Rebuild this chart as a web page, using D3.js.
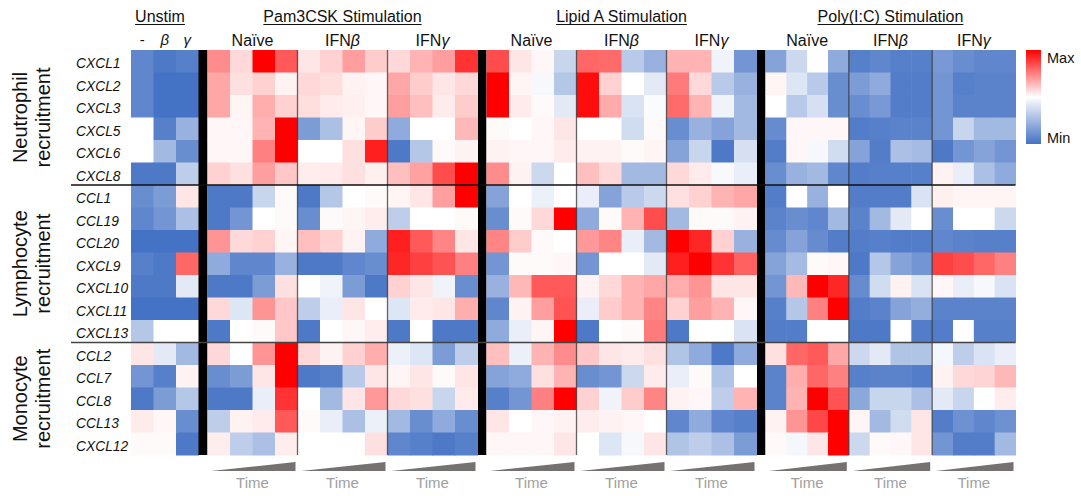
<!DOCTYPE html>
<html>
<head>
<meta charset="utf-8">
<script src="https://cdn.jsdelivr.net/npm/d3@7/dist/d3.min.js"></script>
<style>
    body { margin: 0; background: #fff; }
    text { font-family: "Liberation Sans", Arial, sans-serif; }
</style>
</head>
<body>
<svg id="chart" width="1081" height="496"></svg>
<script>
// genes (rows) and their groups
let genes = ["CXCL1", "CXCL2", "CXCL3", "CXCL5", "CXCL6", "CXCL8",
    "CCL1", "CCL19", "CCL20", "CXCL9", "CXCL10", "CXCL11", "CXCL13",
    "CCL2", "CCL7", "CCL8", "CCL13", "CXCL12"];
let groupNames = [["Neutrophil", "recruitment"], ["Lymphocyte", "recruitment"], ["Monocyte", "recruitment"]];
let groupSizes = [6, 7, 5];

let unstimCols = ["-", "β", "γ"];
let stimNames = ["Pam3CSK Stimulation", "Lipid A Stimulation", "Poly(I:C) Stimulation"];
let treatments = ["Naïve", "IFNβ", "IFNγ"];
let timepoints = ["t1", "t2", "t3", "t4"];

// relative expression, -1 = Min, 0 = middle, 1 = Max
let unstimValues = [
    [-0.85, -0.95, -0.9], [-0.85, -1, -1], [-0.85, -1, -1], [0, -0.9, -0.55], [0, -0.5, -0.8], [-0.95, -0.95, -0.35],
    [-0.8, -0.7, 0.1], [-0.85, -0.75, -0.45], [-1, -1, -1], [-0.9, -0.95, 0.6], [-0.95, -0.95, -0.15], [-1, -1, -1], [-0.4, 0, 0],
    [0.1, -0.15, -0.5], [-0.75, -0.9, 0.05], [-0.95, -0.7, -0.4], [0.08, 0.03, -0.8], [0.02, 0.02, -0.95]
];

let pam3Values = [
    [0.45, 0.15, 1, 0.65, 0.1, 0.18, 0.38, 0.2, 0.15, 0.3, 0.38, 0.8],
    [0.35, 0.12, 0.18, 0.05, 0.15, 0.13, 0.05, 0.03, 0.35, 0.2, 0.1, 0.15],
    [0.35, 0.04, 0.32, 0.18, 0.13, 0.08, 0.06, 0.03, 0.38, 0.25, 0.08, 0.2],
    [0.03, 0.03, 0.3, 1, -0.7, -0.45, 0.04, 0.2, -0.6, 0, 0, 0.28],
    [0.03, 0.03, 0.5, 1, 0, 0, 0.12, 0.88, -0.95, -0.4, 0.02, 0.05],
    [0.18, 0.12, 0.38, 0.22, 0.07, 0.08, 0.12, 0.06, 0.25, 0.37, 0.7, 1],
    [-0.95, -0.95, -0.3, 0.02, -0.95, -0.4, 0, 0.02, 0.04, 0.1, 0.38, 1],
    [-0.95, -0.75, 0, 0.02, -0.8, 0.02, 0.04, 0.07, -0.35, 0, 0, 0.02],
    [0.42, 0.15, 0.18, 0.04, 0.25, 0.18, 0.05, -0.6, 0.88, 0.65, 0.48, 0.1],
    [-0.6, -0.85, -0.85, -0.55, -0.95, -0.95, -0.85, -0.8, 0.85, 0.75, 0.68, 0.5],
    [-0.95, -0.95, -0.7, 0.12, 0, -0.08, -0.7, -0.95, 0.18, 0.1, -0.08, -0.8],
    [0.15, -0.18, 0.42, 0.22, -0.35, -0.12, 0.1, 0, -0.18, 0.08, 0.1, 0.32],
    [-0.95, 0, 0.02, 0.22, -0.95, 0, 0.03, 0.07, -0.95, 0, -0.95, -0.95],
    [0.15, 0, 0.42, 1, 0.15, 0.05, 0.18, 0.32, -0.1, -0.18, -0.7, -0.35],
    [-0.8, -0.7, 0.1, 1, -0.95, -0.9, -0.38, 0.1, 0.04, 0.1, 0.02, 0.1],
    [-0.95, -0.95, -0.12, 0.8, 0, -0.5, 0.1, 0.4, 0.15, 0.12, -0.3, 0.08],
    [-0.35, 0.05, 0.08, 0.65, 0.02, -0.12, -0.45, -0.1, -0.5, -0.8, -0.6, -0.8],
    [0.07, -0.35, -0.45, 0.07, 0, 0, 0, 0.12, -0.85, -0.9, -0.95, -0.9]
];

let lipidAValues = [
    [0.7, 0.1, 0.03, -0.3, 0.6, 0.58, -0.38, -0.55, 0.3, 0.3, -0.08, -0.75],
    [1, 0.04, -0.05, -0.4, 0.95, 0.18, 0, -0.15, 0.52, 0.15, -0.38, -0.55],
    [1, 0.08, 0.02, -0.15, 0.95, 0.33, -0.2, -0.03, 0.58, 0.3, -0.08, -0.5],
    [0.02, 0, 0.03, 0.1, 0, 0, -0.25, 0.02, -0.8, -0.55, -0.65, -0.5],
    [0.05, 0.03, 0.03, 0.08, 0.05, 0.05, 0.02, 0.04, -0.65, -0.3, -0.95, -0.22],
    [0.45, 0.05, -0.28, 0, 0.25, 0.15, -0.5, -0.5, 0.15, 0.08, -0.04, -0.12],
    [-0.65, 0, -0.1, 0, -0.12, -0.65, -0.38, -0.28, 0.12, 0.18, 0.3, 0.35],
    [-0.8, 0.02, 0.15, 1, -0.6, 0.02, 0.3, 0.7, -0.5, 0.02, 0.02, 0.05],
    [0.48, 0.2, 0.02, 0, 0.4, 0.48, -0.12, -0.5, 1, 0.85, 0.18, -0.55],
    [-0.75, 0.02, 0.02, 0.03, -0.75, 0, 0, -0.15, 0.88, 1, 0.8, 0.62],
    [-0.55, 0.28, 0.65, 0.65, 0.05, 0.15, 0.3, 0.35, 0.32, 0.42, 0.1, 0.1],
    [-0.85, 0.05, 0.38, 0.68, -0.12, 0.2, 0.3, 0.48, 0.18, 0.38, 0.3, 0.03],
    [-0.6, -0.12, 0.04, 1, -0.95, 0, 0.02, 0.52, -0.95, 0, 0, -0.2],
    [0.25, -0.1, 0.3, 0.45, 0.22, 0.1, 0.08, 0.12, -0.42, -0.6, -0.95, -0.6],
    [-0.65, -0.6, 0.12, 0.3, -0.8, -0.75, -0.28, 0.08, -0.12, 0.02, -0.42, 0],
    [-0.9, -0.75, 0.5, 1, 0.18, -0.08, 0.2, 0.48, 0.05, 0.03, -0.35, 0.3],
    [0.1, 0, 0.03, 0.05, 0.07, 0.05, 0.03, 0, -0.85, -0.6, -0.85, -0.9],
    [0.03, 0.03, 0.03, 0.1, 0, -0.18, -0.05, 0.1, -0.42, -0.35, -0.45, -0.7]
];

let polyICValues = [
    [-0.65, -0.28, 0, -0.6, -0.9, -0.85, -0.9, -0.9, -0.72, -0.8, -0.85, -0.85],
    [0.04, -0.18, -0.38, -0.8, -0.7, -0.6, -0.92, -0.92, -0.75, -0.9, -0.88, -0.88],
    [0, -0.38, -0.22, -0.8, -0.8, -0.72, -0.92, -0.92, -0.75, -0.88, -0.88, -0.88],
    [-0.82, 0.03, 0.03, 0.03, -0.92, -0.9, -0.88, -0.88, -0.75, -0.3, -0.5, -0.5],
    [-0.92, 0.03, -0.05, -0.25, -0.65, -0.92, -0.45, -0.48, -0.95, -0.75, -0.65, -0.75],
    [-0.8, -0.55, -0.5, -0.85, -0.92, -0.9, -0.9, -0.9, 0.05, -0.12, -0.45, -0.6],
    [-0.92, 0, -0.55, 0, -0.92, -0.92, -0.92, -0.2, 0.06, 0.04, 0.04, 0.04],
    [-0.88, -0.8, -0.85, -0.5, -0.88, -0.5, -0.15, 0, -0.8, 0, 0, -0.28],
    [-0.82, -0.65, -0.82, -0.92, -0.92, -0.9, -0.92, -0.92, -0.85, -0.88, -0.9, -0.9],
    [-0.65, -0.48, 0.02, 0.03, -0.95, -0.4, -0.65, -0.75, 0.75, 0.7, 0.6, 0.5],
    [-0.75, 0.28, 1, 0.85, -0.82, -0.25, 0.05, -0.2, 0.03, -0.12, -0.05, -0.2],
    [-0.9, -0.4, 0.5, 1, -0.92, -0.88, -0.65, -0.58, -0.88, -0.88, -0.88, -0.88],
    [-0.92, -0.92, 0, 0, -0.95, -0.95, 0, -0.92, -0.92, 0, -0.9, -0.9],
    [0.12, 0.6, 0.65, 0.35, -0.28, -0.15, -0.42, -0.42, -0.06, -0.35, -0.2, -0.12],
    [-0.88, 0.32, 0.6, 0.5, -0.9, -0.88, -0.88, -0.92, 0.05, 0.15, 0.17, 0.28],
    [-0.88, 0.3, 1, 0.68, -0.62, -0.3, -0.3, -0.45, -0.15, -0.3, 0, 0.07],
    [0.05, 0.42, 0.72, 1, 0.04, -0.5, -0.25, 0.1, -0.92, -0.78, -0.85, -0.78],
    [0.02, -0.06, 0.1, 1, -0.28, 0.02, 0.03, 0.1, -0.75, -0.92, -0.92, -0.5]
];

let svg = d3.select("#chart");

let gridTop = 50, gridBottom = 455;
let y = d3.scaleBand().domain(genes).range([gridTop, gridBottom]);

let color = d3.scaleLinear()
    .domain([-1, 0, 1])
    .range(["#4472c4", "#ffffff", "#ff0000"]);

// column keys for the stimulation blocks
let stimCols = [];
treatments.forEach(function (t) {
    timepoints.forEach(function (p) {
        stimCols.push(t + "|" + p);
    });
});

let blocks = [
    {name: stimNames[0], values: pam3Values, x0: 207.5, x1: 477.5},
    {name: stimNames[1], values: lipidAValues, x0: 486.5, x1: 756.5},
    {name: stimNames[2], values: polyICValues, x0: 765.5, x1: 1015.5}
];

// draw a matrix of cells
function drawCells(values, cols, x) {
    let g = svg.append("g");
    genes.forEach(function (gene, i) {
        g.selectAll(null)
            .data(values[i])
            .enter()
            .append("rect")
            .attr("x", function (d, j) { return x(cols[j]); })
            .attr("y", y(gene))
            .attr("width", x.bandwidth() + 0.5)
            .attr("height", y.bandwidth() + 0.5)
            .attr("fill", function (d) { return color(d); });
    });
}

// header text with italic greek letter
function labelWithGreek(sel, label) {
    let m = label.match(/^(.*?)([βγ])$/);
    if (m) {
        if (m[1]) sel.append("tspan").text(m[1]);
        sel.append("tspan").attr("font-style", "italic").text(m[2]);
    } else {
        sel.text(label);
    }
}

function underlinedTitle(cx, text) {
    let t = svg.append("text")
        .attr("x", cx)
        .attr("y", 22)
        .attr("text-anchor", "middle")
        .attr("font-size", 16)
        .attr("fill", "#111")
        .text(text);
    let w = t.node().getComputedTextLength();
    svg.append("line")
        .attr("x1", cx - w / 2).attr("x2", cx + w / 2)
        .attr("y1", 24.5).attr("y2", 24.5)
        .attr("stroke", "#111").attr("stroke-width", 1);
}

// unstim block
let xUn = d3.scaleBand().domain(unstimCols).range([131, 198.5]);
drawCells(unstimValues, unstimCols, xUn);
underlinedTitle(160, "Unstim");
unstimCols.forEach(function (c) {
    let t = svg.append("text")
        .attr("x", xUn(c) + xUn.bandwidth() / 2)
        .attr("y", 45)
        .attr("text-anchor", "middle")
        .attr("font-size", 15)
        .attr("fill", "#111");
    labelWithGreek(t, c);
});

// black separators
[198.5, 477.5, 756.5].forEach(function (bx) {
    svg.append("rect")
        .attr("x", bx).attr("y", gridTop)
        .attr("width", 9).attr("height", gridBottom - gridTop)
        .attr("fill", "#000");
});

blocks.forEach(function (b) {
    let x = d3.scaleBand().domain(stimCols).range([b.x0, b.x1]);
    let xT = d3.scaleBand().domain(treatments).range([b.x0, b.x1]);
    drawCells(b.values, stimCols, x);

    underlinedTitle((b.x0 + b.x1) / 2, b.name);

    treatments.forEach(function (t, k) {
        let cx = xT(t) + xT.bandwidth() / 2;
        let lab = svg.append("text")
            .attr("x", cx)
            .attr("y", 45.5)
            .attr("text-anchor", "middle")
            .attr("font-size", 16)
            .attr("fill", "#111");
        labelWithGreek(lab, t);

        // divider between treatments
        if (k > 0) {
            svg.append("line")
                .attr("x1", xT(t)).attr("x2", xT(t))
                .attr("y1", gridTop).attr("y2", gridBottom)
                .attr("stroke", "#333").attr("stroke-opacity", 0.75)
                .attr("stroke-width", 1.3);
        }

        // time wedge
        let l = xT(t) + 3.5, r = xT(t) + xT.bandwidth() - 2;
        svg.append("path")
            .attr("d", "M" + l + ",471L" + r + ",471L" + r + ",462Z")
            .attr("fill", "#767171");
        svg.append("text")
            .attr("x", cx)
            .attr("y", 488)
            .attr("text-anchor", "middle")
            .attr("font-size", 15)
            .attr("fill", "#a0a0a0")
            .text("Time");
    });
});

// gene labels
svg.append("g").selectAll("text")
    .data(genes)
    .enter()
    .append("text")
    .attr("x", 76)
    .attr("y", function (d) { return y(d) + y.bandwidth() / 2 + 7; })
    .attr("font-size", 13.8)
    .attr("font-style", "italic")
    .attr("fill", "#111")
    .text(function (d) { return d; });

// group separators and labels
let start = 0;
groupSizes.forEach(function (n, i) {
    let top = y(genes[start]);
    let bottom = y(genes[start + n - 1]) + y.bandwidth();
    let cy = (top + bottom) / 2;
    groupNames[i].forEach(function (line, k) {
        svg.append("text")
            .attr("transform", "translate(" + (k === 0 ? 26.5 : 49.5) + "," + cy + ") rotate(-90)")
            .attr("text-anchor", "middle")
            .attr("font-size", 20)
            .attr("fill", "#111")
            .text(line);
    });
    if (i > 0) {
        svg.append("line")
            .attr("x1", 71).attr("x2", 1015.5)
            .attr("y1", top).attr("y2", top)
            .attr("stroke", i === 1 ? "#111" : "#444")
            .attr("stroke-width", 1.3);
    }
    start += n;
});

// legend
let defs = svg.append("defs");
let grad = defs.append("linearGradient")
    .attr("id", "legendGrad")
    .attr("x1", 0).attr("x2", 0).attr("y1", 0).attr("y2", 1);
grad.append("stop").attr("offset", "0%").attr("stop-color", color(1));
grad.append("stop").attr("offset", "50%").attr("stop-color", color(0));
grad.append("stop").attr("offset", "100%").attr("stop-color", color(-1));

svg.append("rect")
    .attr("x", 1026).attr("y", 50)
    .attr("width", 15).attr("height", 94)
    .attr("fill", "url(#legendGrad)");
svg.append("text")
    .attr("x", 1047).attr("y", 62.5)
    .attr("font-size", 14.5).attr("fill", "#111")
    .text("Max");
svg.append("text")
    .attr("x", 1047).attr("y", 143)
    .attr("font-size", 14.5).attr("fill", "#111")
    .text("Min");
</script>
</body>
</html>
